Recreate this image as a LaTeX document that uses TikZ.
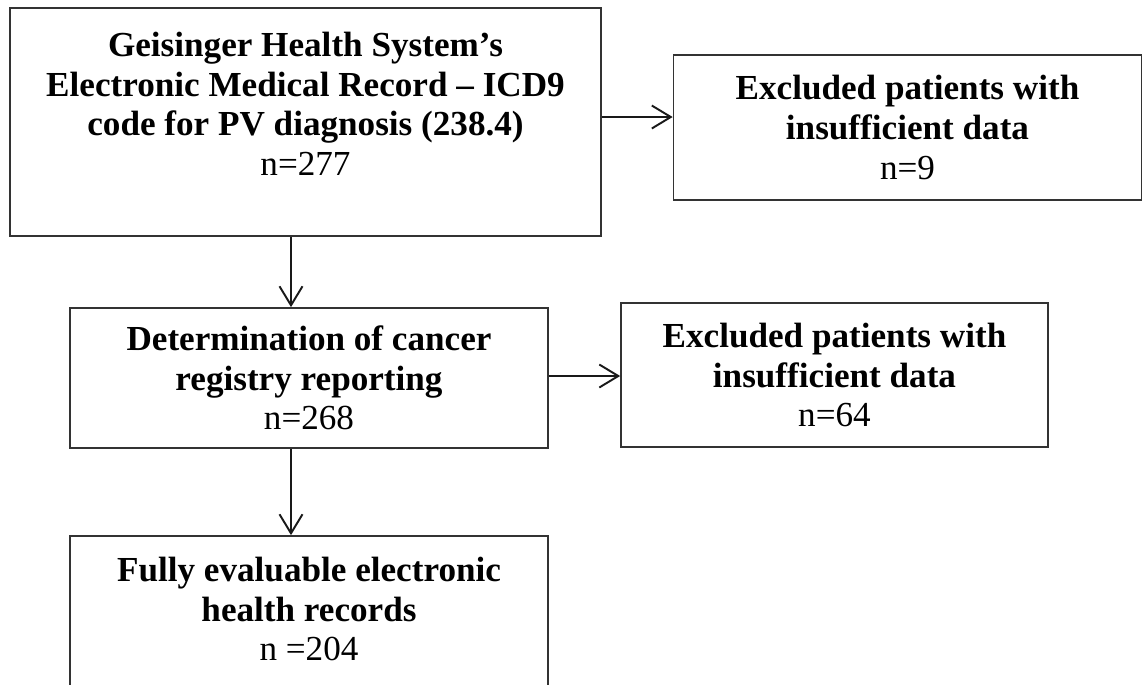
\documentclass[tikz,border=0pt]{standalone}
\usepackage{fontspec}
\setmainfont{Liberation Serif}
\usetikzlibrary{arrows.meta,positioning}

\begin{document}
\begin{tikzpicture}[x=0.02cm, y=-0.02cm,
        box/.style={draw=black!80, line width=1pt, inner sep=0pt},
        txt/.style={align=center, font=\fontsize{20}{22.5}\selectfont},
        arr/.style={-{Straight Barb[length=0.38cm, width=0.46cm, line width=1.1pt]}, line width=1.1pt, black!90}]
    \useasboundingbox (0,0) rectangle (1144,684);
    \clip (0,0) rectangle (1144,684);
    % boxes
    \node[box, minimum width=11.82cm, minimum height=4.56cm] (geis) at (305.5,122) {};
    \node[txt] (geistxt) at (305.5,104) {\textbf{Geisinger Health System’s}\\
        \textbf{Electronic Medical Record – ICD9}\\
        \textbf{code for PV diagnosis (238.4)}\\ n=277};
    \node[box, txt, minimum width=9.36cm, minimum height=2.9cm] (excl1) at (907.5,127.5)
        {\textbf{Excluded patients with}\\ \textbf{insufficient data}\\ n=9};
    \node[box, txt, minimum width=9.56cm, minimum height=2.8cm] (detc) at (309,378)
        {\textbf{Determination of cancer}\\ \textbf{registry reporting}\\ n=268};
    \node[box, txt, minimum width=8.54cm, minimum height=2.88cm] (excl2) at (834.5,375)
        {\textbf{Excluded patients with}\\ \textbf{insufficient data}\\ n=64};
    \node[box, minimum width=9.56cm, minimum height=4cm] (full) at (309,636) {};
    \node[txt] (fulltxt) at (309,609) {\textbf{Fully evaluable electronic}\\
        \textbf{health records}\\ n =204};
    % connectors
    \coordinate (spine) at (291,0);
    \coordinate (row1) at (0,117);
    \coordinate (row2) at (0,376);
    \draw[arr] (geis.east |- row1) -- (excl1.west |- row1);
    \draw[arr] (geis.south -| spine) -- (detc.north -| spine);
    \draw[arr] (detc.east |- row2) -- (excl2.west |- row2);
    \draw[arr] (detc.south -| spine) -- (full.north -| spine);
\end{tikzpicture}
\end{document}
